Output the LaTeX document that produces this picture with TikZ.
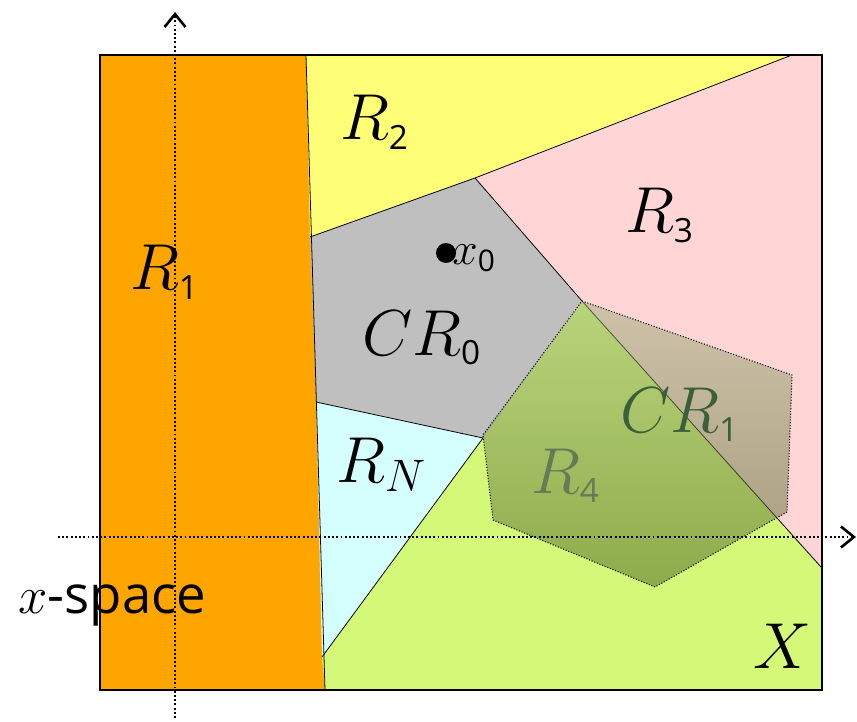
\documentclass[tikz,border=0pt]{standalone}
\usepackage{fix-cm}
\usepackage{fontspec}
\newfontfamily\digitfont{Open Sans}
\usetikzlibrary{arrows.meta}
\definecolor{regone}{HTML}{FFA500}
\definecolor{regtwo}{HTML}{FFFF77}
\definecolor{regthree}{HTML}{FFD5D5}
\definecolor{regzero}{HTML}{BFBFBF}
\definecolor{regN}{HTML}{D5FFFF}
\definecolor{regfour}{HTML}{D4F878}
\definecolor{crtop}{HTML}{A0B080}
\definecolor{crbot}{HTML}{4A6020}
\definecolor{crtext}{HTML}{3A5F3A}
\definecolor{fourtext}{HTML}{667A58}
\newcommand{\idx}[2][19]{\mbox{\digitfont\fontsize{#1}{#1}\selectfont #2}}

\begin{document}
\begin{tikzpicture}[
  x=0.02cm, y=-0.02cm,
  border/.style={line width=0.45pt},
  label/.style={anchor=base west,inner sep=0pt,font=\fontsize{37}{40}\selectfont},
  axis/.style={line width=1.1pt,dash pattern=on 1.1pt off 1.3pt,-{Straight Barb[length=2.6mm,width=4.2mm,line width=1.5pt]}},
]
  \useasboundingbox (0,0) rectangle (857,722);

  % Regions
  \fill[regone] (100,55) -- (306,55) -- (325,690) -- (100,690) -- cycle;
  \fill[regtwo] (306,55) -- (792,55) -- (475,178) -- (310,237) -- cycle;
  \fill[regthree] (792,55) -- (821,55) -- (821,567) -- (582,301) -- (475,178) -- cycle;
  \fill[regzero] (310,237) -- (475,178) -- (582,301) -- (483,438) -- (316,402) -- cycle;
  \fill[regN] (316,402) -- (483,438) -- (322,657) -- cycle;
  \fill[regfour] (483,438) -- (582,301) -- (821,567) -- (821,690) -- (325,690) -- (322,657) -- cycle;

  % Boundaries
  \draw[border] (306,55) -- (325,690);
  \draw[border] (792,55) -- (475,178) -- (310,237);
  \draw[border] (475,178) -- (582,301) -- (821,567);
  \draw[border] (316,402) -- (483,438) -- (322,657);

  % Counterexample region CR_1
  \shade[top color=crtop,bottom color=crbot,opacity=0.5]
    (582,301) -- (792,375) -- (787,512) -- (655,587) -- (493,520) -- (483,435) -- cycle;
  \draw[line width=0.6pt,densely dotted]
    (582,301) -- (792,375) -- (787,512) -- (655,587) -- (493,520) -- (483,435) -- cycle;

  % Frame
  \draw[line width=1.5pt] (100,55) rectangle (822,690);

  % Axes
  \coordinate (ybot) at (175,718);
  \coordinate (ytop) at (175,12);
  \coordinate (xleft) at (58,537);
  \coordinate (xright) at (856,537);
  \draw[axis] (ybot) -- (ytop);
  \draw[axis] (xleft) -- (xright);

  % Point x_0
  \fill (446,253) circle (10);
  \node[anchor=base west,inner sep=0pt,font=\fontsize{26}{28}\selectfont] (xzero) at (452,265) {$x_{\idx[17]{0}}$};

  % Labels
  \node[label] (lone) at (130,290) {$R_{\idx{1}}$};
  \node[label] (ltwo) at (340,140) {$R_{\idx{2}}$};
  \node[label] (lthree) at (625,233) {$R_{\idx{3}}$};
  \node[label] (lzero) at (362,355) {$CR_{\idx{0}}$};
  \node[label] (lN) at (336,482) {$R_N$};
  \node[label,text=crtext] (lcr) at (620,432) {$CR_{\idx{1}}$};
  \node[label,text=fourtext] (lfour) at (531,493) {$R_{\idx{4}}$};
  \node[label] (lX) at (753,668) {$X$};
  \node[anchor=base west,inner sep=0pt,font=\fontsize{30}{33}\selectfont] (lspace) at (18,613) {$x$\digitfont-space};
\end{tikzpicture}
\end{document}
